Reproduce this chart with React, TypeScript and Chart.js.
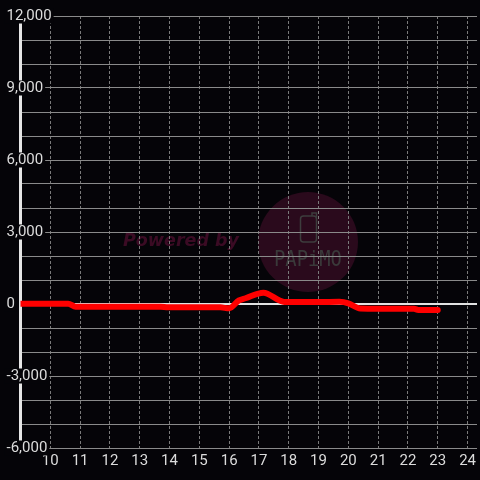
import { useEffect, useRef } from 'react';
import { Chart, registerables } from 'chart.js';

Chart.register(...registerables);

// Data (hour of day -> value)
const hours = [9, 10, 10.6, 10.85, 12, 13, 13.7, 13.95, 15, 15.7, 16.0, 16.33, 16.55, 17.15, 17.85, 18, 19, 19.7, 20.0, 20.4, 21, 22.2, 22.35, 23];
const values = [10, 10, 10, -110, -110, -110, -110, -140, -140, -140, -180, 150, 240, 470, 85, 85, 85, 90, 30, -190, -200, -200, -250, -250];

const xTickValues = [9, 10, 11, 12, 13, 14, 15, 16, 17, 18, 19, 20, 21, 22, 23, 24];
const xLabelValues = [10, 11, 12, 13, 14, 15, 16, 17, 18, 19, 20, 21, 22, 23, 24];
const yTickValues = [-6000, -5000, -4000, -3000, -2000, -1000, 0, 1000, 2000, 3000, 4000, 5000, 6000, 7000, 8000, 9000, 10000, 11000, 12000];
const yLabelValues = [-6000, -3000, 0, 3000, 6000, 9000, 12000];

const X_MIN = 9;
const X_MAX = 24.317;
const Y_MIN = -6000;
const Y_MAX = 12000;

const BG = '#050408';

export default function App() {
  const ref = useRef<HTMLCanvasElement>(null);

  useEffect(() => {
    document.body.style.margin = '0';
    const canvas = ref.current;
    if (!canvas) return;

    const bgPlugin = {
      id: 'bgAndMark',
      beforeDraw(chart: any) {
        const { ctx, width, height } = chart;
        ctx.save();
        ctx.fillStyle = BG;
        ctx.fillRect(0, 0, width, height);
        // watermark circle
        ctx.fillStyle = '#2a0a1c';
        ctx.beginPath();
        ctx.arc(308, 242, 50, 0, Math.PI * 2);
        ctx.fill();
        // phone icon
        ctx.strokeStyle = '#3d3d3d';
        ctx.lineWidth = 1.5;
        ctx.beginPath();
        (ctx as any).roundRect(300.5, 216, 16, 26, 3);
        ctx.stroke();
        ctx.beginPath();
        ctx.moveTo(312, 216);
        ctx.lineTo(312, 213);
        ctx.lineTo(316.5, 213);
        ctx.lineTo(316.5, 217);
        ctx.stroke();
        // PAPiMO text
        ctx.fillStyle = '#3a3a3a';
        ctx.font = '22px "DejaVu Sans Mono"';
        ctx.textBaseline = 'alphabetic';
        ctx.textAlign = 'left';
        ctx.save();
        ctx.translate(274, 266);
        ctx.scale(0.855, 1);
        ctx.fillText('PAPiMO', 0, 0);
        ctx.restore();
        // Powered by
        ctx.fillStyle = '#3b0b24';
        ctx.font = 'italic bold 17.5px "DejaVu Sans"';
        ctx.fillText('Powered by', 123, 246);
        ctx.restore();
      },
    };

    const chart = new Chart(canvas, {
      type: 'line',
      data: {
        datasets: [
          {
            data: hours.map((h, i) => ({ x: h, y: values[i] })),
            borderColor: '#ff0000',
            borderWidth: 6,
            pointRadius: 0,
            pointHoverRadius: 0,
            cubicInterpolationMode: 'monotone',
            borderCapStyle: 'round',
            borderJoinStyle: 'round',
            fill: false,
          },
        ],
      },
      options: {
        animation: false,
        responsive: false,
        devicePixelRatio: 1,
        layout: { padding: { top: 16, left: 0, right: 0, bottom: 0 } },
        plugins: { legend: { display: false }, tooltip: { enabled: false } },
        scales: {
          x: {
            type: 'linear',
            position: 'bottom',
            min: X_MIN,
            max: X_MAX,
            afterBuildTicks: (a: any) => {
              a.ticks = xTickValues.map((value) => ({ value }));
            },
            afterFit: (a: any) => {
              a.height = 32;
            },
            grid: {
              color: (c: any) => (c.tick && xLabelValues.includes(c.tick.value) ? '#7a7a7a' : 'rgba(0,0,0,0)'),
              lineWidth: 1,
              drawTicks: false,
            },
            border: { display: false, dash: [3, 2] },
            ticks: {
              autoSkip: false,
              maxRotation: 0,
              padding: 4,
              color: '#dcdcdc',
              font: { family: 'Roboto', size: 15, lineHeight: 1.2 },
              callback: (v: any) => (xLabelValues.includes(v) ? String(v) : ''),
            },
          },
          y: {
            type: 'linear',
            position: 'left',
            min: Y_MIN,
            max: Y_MAX,
            afterBuildTicks: (a: any) => {
              a.ticks = yTickValues.map((value) => ({ value }));
            },
            afterFit: (a: any) => {
              a.width = 20.5;
            },
            grid: {
              color: (c: any) => (c.tick && c.tick.value === 0 ? '#e2e2e2' : '#8a8a8a'),
              lineWidth: (c: any) => (c.tick && c.tick.value === 0 ? 2 : 1),
              drawTicks: false,
            },
            border: { display: true, color: '#e6e6e6', width: 3 },
            ticks: {
              mirror: true,
              padding: -14,
              autoSkip: false,
              color: '#dcdcdc',
              font: { family: 'Roboto', size: 15, lineHeight: 1 },
              callback: (v: any) => (yLabelValues.includes(v) ? Number(v).toLocaleString('en-US') : ''),
              showLabelBackdrop: (c: any) => !!(c.tick && yLabelValues.includes(c.tick.value)),
              backdropColor: BG,
              backdropPadding: { top: 0, bottom: 0, left: 2, right: 2 },
            },
          },
        },
      } as any,
      plugins: [bgPlugin],
    });

    return () => chart.destroy();
  }, []);

  return (
    <div style={{ width: 480, height: 480 }}>
      <canvas ref={ref} width={480} height={480} style={{ display: 'block' }} />
    </div>
  );
}
